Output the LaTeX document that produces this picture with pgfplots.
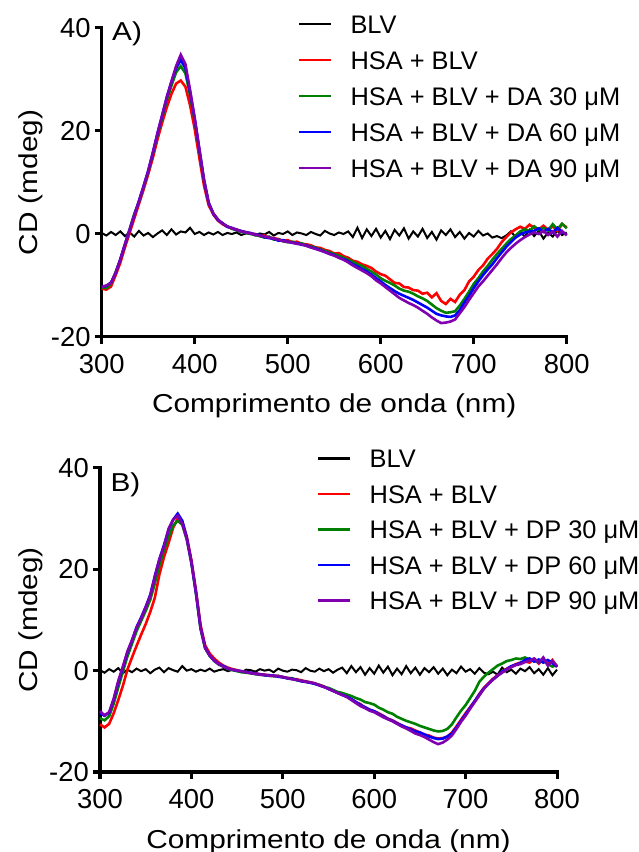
\documentclass[border=0pt]{standalone}
\usepackage{fontspec}
\setmainfont{Liberation Sans}
\newfontfamily\axisfont[FakeStretch=1.15]{Liberation Sans}
\usepackage{pgfplots}
\usepackage{pgfplotstable}
\pgfplotsset{compat=1.18}
\definecolor{cgreen}{RGB}{0,128,0}
\definecolor{cblue}{RGB}{0,0,255}
\definecolor{cpurple}{RGB}{128,0,176}
\definecolor{cred}{RGB}{255,0,0}

\pgfplotstableread{
x b r g bl p
300 0.2 -10.6 -10.4 -10.2 -10.3
305 -0.3 -10.8 -10.5 -10.1 -10.0
310 0.4 -10.2 -9.6 -9.4 -9.5
315 -0.2 -8.0 -7.4 -7.6 -7.5
320 0.5 -5.6 -5.0 -4.9 -5.0
325 -0.4 -2.6 -2.1 -2.0 -2.0
330 0.3 0.2 0.9 0.8 0.8
335 -0.5 3.0 3.9 3.6 3.6
340 0.6 5.8 6.2 6.4 6.3
345 -0.3 8.6 9.0 9.3 9.2
350 0.2 11.6 12.0 12.3 12.2
355 -0.6 14.8 15.5 15.8 15.8
360 0.1 18.4 19.2 19.6 19.5
365 0.7 21.6 22.6 23.0 23.1
370 -0.2 24.6 26.0 26.6 26.5
375 0.9 27.2 28.8 29.6 29.6
380 -0.1 29.2 31.4 32.2 32.6
385 0.5 29.8 32.6 33.8 34.8
390 0.3 28.6 31.2 32.2 33.0
395 1.2 25.0 27.0 27.6 28.0
400 0.0 20.4 22.0 22.4 22.5
405 0.4 14.8 16.2 16.4 16.5
410 -0.2 9.4 10.4 10.5 10.5
415 0.3 5.6 6.0 6.1 6.0
420 -0.1 3.8 4.0 3.9 4.0
425 0.4 2.6 2.8 2.7 2.8
430 -0.2 1.9 2.0 2.1 2.0
435 0.2 1.4 1.5 1.4 1.5
440 0.0 1.1 1.0 1.2 1.1
445 0.3 0.9 0.7 0.8 0.8
450 -0.2 0.5 0.4 0.6 0.5
455 0.1 0.4 0.2 0.3 0.3
460 0.2 0.1 0.0 0.2 0.1
465 -0.3 0.0 -0.2 -0.1 -0.1
470 0.1 -0.4 -0.4 -0.2 -0.3
475 -0.1 -0.3 -0.7 -0.6 -0.5
480 0.4 -0.7 -0.5 -0.8 -0.7
485 -0.3 -0.8 -1.1 -0.9 -0.9
490 0.2 -1.0 -1.0 -1.3 -1.1
495 0.0 -1.3 -1.4 -1.2 -1.4
500 0.5 -1.2 -1.6 -1.5 -1.5
505 -0.2 -1.6 -1.5 -1.7 -1.7
510 0.3 -1.5 -1.9 -1.8 -1.9
515 0.1 -1.9 -1.8 -2.1 -2.0
520 -0.2 -2.0 -2.3 -2.2 -2.3
525 0.4 -2.2 -2.4 -2.6 -2.6
530 0.0 -2.6 -2.7 -2.8 -2.9
535 -0.3 -2.7 -3.0 -3.1 -3.2
540 0.6 -3.1 -3.3 -3.5 -3.5
545 0.1 -3.3 -3.6 -3.8 -3.9
550 -0.2 -3.8 -3.9 -4.1 -4.2
555 0.3 -3.7 -4.2 -4.6 -4.6
560 0.0 -4.3 -4.6 -4.9 -5.0
565 0.5 -4.6 -5.0 -5.3 -5.5
570 -0.6 -5.2 -5.4 -5.9 -6.1
575 1.2 -5.4 -5.9 -6.3 -6.6
580 -0.8 -5.9 -6.2 -6.8 -7.1
585 0.9 -6.2 -6.8 -7.3 -7.6
590 -0.4 -6.6 -7.3 -7.9 -8.2
595 1.0 -7.3 -7.9 -8.6 -9.0
600 -0.7 -7.8 -8.6 -9.2 -9.6
605 0.6 -8.1 -9.1 -9.9 -10.3
610 -1.0 -8.8 -9.5 -10.5 -11.0
615 0.8 -9.5 -10.0 -11.1 -11.7
620 -0.3 -9.6 -10.6 -11.6 -12.4
625 1.1 -10.3 -11.0 -12.0 -12.9
630 -0.9 -10.4 -11.2 -12.4 -13.4
635 0.5 -10.9 -11.6 -12.8 -13.8
640 -0.5 -11.0 -12.1 -13.3 -14.3
645 1.0 -11.6 -12.5 -13.8 -14.9
650 -0.8 -11.4 -13.0 -14.3 -15.5
655 0.4 -12.3 -13.7 -14.9 -16.2
660 -1.1 -11.5 -14.4 -15.5 -16.8
665 0.7 -13.0 -14.9 -15.8 -17.3
670 -0.2 -13.6 -15.3 -16.0 -17.2
675 0.9 -12.6 -15.2 -16.1 -17.0
680 -0.6 -13.2 -15.0 -15.8 -16.6
685 0.4 -11.8 -13.9 -14.8 -15.4
690 -0.9 -10.9 -12.6 -13.3 -14.2
695 0.2 -9.2 -11.2 -12.0 -12.8
700 -0.5 -8.3 -9.7 -10.5 -11.5
705 0.6 -7.0 -8.6 -9.2 -10.2
710 -0.3 -6.1 -7.3 -8.0 -9.2
715 0.1 -4.8 -6.2 -6.9 -8.1
720 -0.7 -3.9 -5.0 -5.9 -7.0
725 -0.4 -2.9 -3.9 -4.7 -5.9
730 -0.8 -1.6 -2.9 -3.6 -4.7
735 -0.3 -0.6 -1.9 -2.5 -3.6
740 0.5 0.3 -1.0 -1.6 -2.7
745 -0.6 0.9 -0.3 -0.7 -1.9
750 0.4 1.4 0.5 -0.1 -1.2
755 -0.5 1.0 0.9 0.3 -0.6
760 0.8 1.8 0.6 0.5 -0.1
765 -0.4 1.2 1.5 0.6 0.3
770 0.6 0.9 0.8 1.1 0.0
775 -0.9 1.6 1.2 0.4 0.6
780 0.3 0.8 0.7 1.0 -0.2
785 -0.5 1.5 1.9 0.3 0.5
790 0.7 0.6 0.9 1.2 -0.5
795 -0.2 1.9 2.0 0.4 0.6
800 0.3 1.3 1.1 -0.1 -0.3
}\tabA

\pgfplotstableread{
x b r g bl p
300 0.1 -10.6 -9.4 -8.4 -8.0
305 -0.4 -11.2 -9.8 -8.9 -8.8
310 0.3 -10.5 -9.0 -8.3 -8.2
315 -0.2 -8.4 -6.5 -5.7 -5.5
320 0.5 -5.8 -3.3 -2.3 -2.0
325 -0.5 -3.0 -0.2 0.6 0.8
330 0.2 0.2 2.8 3.6 3.8
335 -0.3 2.6 5.3 6.0 6.0
340 0.4 4.9 7.8 8.6 8.5
345 -0.1 7.1 9.8 10.5 10.3
350 0.3 9.2 11.8 12.6 12.5
355 -0.5 11.6 14.0 15.0 14.8
360 0.2 14.4 17.2 18.7 18.5
365 0.6 19.0 20.8 22.0 22.0
370 -0.3 22.4 23.8 24.8 24.5
375 0.5 25.2 26.4 27.8 28.0
380 0.1 28.2 28.6 29.8 29.8
385 -0.2 30.0 29.6 31.0 30.6
390 0.9 29.4 28.8 29.6 29.0
395 0.0 26.4 25.8 26.2 26.0
400 0.3 21.8 21.2 21.4 21.5
405 -0.2 15.8 15.2 15.4 15.5
410 0.2 9.0 8.2 8.6 8.5
415 -0.1 5.0 4.4 4.6 4.5
420 0.4 3.4 2.9 3.0 3.0
425 -0.2 2.4 1.9 2.0 2.0
430 0.1 1.6 1.2 1.3 1.3
435 0.3 1.0 0.8 0.9 0.8
440 -0.1 0.6 0.3 0.4 0.4
445 0.2 0.3 0.1 0.2 0.2
450 0.0 0.1 -0.1 0.0 0.0
455 -0.3 -0.2 -0.3 -0.1 -0.1
460 0.2 -0.3 -0.4 -0.3 -0.3
465 0.1 -0.5 -0.5 -0.4 -0.5
470 -0.2 -0.5 -0.7 -0.6 -0.6
475 0.3 -0.7 -0.8 -0.7 -0.8
480 0.0 -0.8 -0.9 -0.9 -0.8
485 0.2 -0.9 -1.0 -0.9 -1.0
490 -0.3 -1.0 -1.1 -1.0 -1.0
495 0.4 -1.1 -1.0 -1.2 -1.1
500 0.0 -1.3 -1.3 -1.3 -1.2
505 -0.2 -1.4 -1.5 -1.5 -1.5
510 0.2 -1.6 -1.5 -1.6 -1.7
515 0.1 -1.7 -1.9 -1.8 -1.8
520 -0.3 -1.9 -2.0 -2.1 -2.0
525 0.5 -2.1 -2.2 -2.2 -2.2
530 0.0 -2.3 -2.3 -2.4 -2.3
535 -0.2 -2.5 -2.6 -2.6 -2.5
540 0.4 -2.8 -2.8 -2.9 -2.9
545 -0.1 -3.1 -3.2 -3.2 -3.2
550 0.3 -3.6 -3.4 -3.6 -3.6
555 -0.4 -3.9 -3.8 -4.0 -4.0
560 0.2 -4.4 -4.2 -4.4 -4.4
565 0.6 -4.6 -4.4 -4.8 -4.8
570 -0.5 -5.1 -4.7 -5.1 -5.2
575 0.9 -5.6 -5.0 -5.6 -5.8
580 -0.3 -6.2 -5.4 -6.2 -6.4
585 0.7 -6.6 -5.7 -6.8 -7.0
590 -0.8 -7.3 -6.2 -7.2 -7.4
595 0.5 -7.7 -6.4 -7.7 -7.9
600 -0.6 -8.0 -6.7 -8.0 -8.2
605 1.0 -8.4 -7.3 -8.6 -8.7
610 -0.4 -8.9 -7.7 -9.0 -9.2
615 0.8 -9.5 -8.2 -9.5 -9.6
620 -0.9 -9.8 -8.5 -9.9 -10.0
625 0.4 -10.3 -9.1 -10.4 -10.5
630 -0.7 -10.8 -9.5 -10.8 -11.0
635 0.9 -11.2 -9.9 -11.2 -11.4
640 -0.5 -11.4 -10.2 -11.6 -11.9
645 0.6 -11.8 -10.5 -12.0 -12.4
650 -0.8 -12.2 -10.9 -12.2 -12.7
655 0.5 -12.6 -11.2 -12.6 -13.1
660 -0.3 -12.8 -11.5 -13.0 -13.6
665 0.7 -13.2 -11.8 -13.3 -14.1
670 -0.6 -13.4 -12.0 -13.5 -14.5
675 0.4 -13.3 -11.9 -13.4 -14.2
680 -0.9 -13.0 -11.5 -13.0 -13.6
685 0.2 -12.2 -10.6 -12.4 -12.8
690 -0.5 -11.0 -9.2 -11.2 -11.5
695 0.8 -9.7 -7.9 -9.9 -10.1
700 -0.2 -8.4 -6.8 -8.6 -8.9
705 0.3 -7.2 -5.4 -7.3 -7.5
710 -0.6 -6.0 -4.0 -6.0 -6.2
715 0.5 -4.6 -2.2 -4.7 -4.9
720 -0.4 -3.4 -1.2 -3.5 -3.6
725 -0.7 -2.5 -0.4 -2.6 -2.6
730 -0.2 -1.6 0.3 -1.7 -1.8
735 -0.8 -0.9 1.0 -1.0 -1.0
740 0.6 -0.3 1.4 -0.2 -0.4
745 -0.3 0.4 1.9 0.3 0.2
750 0.2 0.8 2.1 0.9 0.7
755 -0.6 1.3 2.4 1.2 1.1
760 0.4 1.6 2.3 1.5 1.3
765 -0.1 1.8 2.6 2.1 1.7
770 0.7 1.6 2.2 2.4 2.0
775 -0.5 2.3 2.0 1.8 2.4
780 0.3 1.4 1.6 2.2 1.6
785 -0.8 2.4 1.9 1.6 2.6
790 0.5 1.2 1.3 2.1 1.0
795 -0.9 2.1 0.8 1.5 1.9
800 0.2 0.7 1.2 0.8 0.9
}\tabB

\newcommand\axfont{\axisfont\fontsize{26}{28}\selectfont}
\newcommand\tkfont{\fontsize{27.5}{29}\selectfont}
\newcommand\legfont{\fontsize{25.5}{27}\selectfont}

\pgfplotsset{
  cdstyle/.style={
    scale only axis, clip=false,
    xmin=300, xmax=800, ymin=-20, ymax=40,
    axis x line=bottom, axis y line=left,
    axis line style={-, line width=3bp, line cap=rect},
    xtick={300,400,500,600,700,800}, ytick={-20,0,20,40},
    minor tick num=0,
    tick align=outside,
    tickwidth=7bp,
    every tick/.style={black, line width=3bp},
    tick label style={font=\tkfont, inner sep=0pt},
    xticklabel style={anchor=north, yshift=-10bp},
    yticklabel style={anchor=east, xshift=-4bp},
    /pgf/number format/assume math mode=true,
    xlabel style={at={(axis description cs:0.5,0)}, anchor=base, yshift=-76bp, font=\axfont},
    ylabel style={at={(axis description cs:-0.137,0.5)}, anchor=base, font=\axfont},
    legend cell align=left,
    legend image code/.code={\draw[##1, line width=2.6bp] (0bp,3bp) -- (32bp,3bp);},
    legend style={draw=none, fill=none, font=\legfont, anchor=north west,
      inner sep=0pt, outer sep=0pt, column sep=18bp,
      nodes={inner sep=0pt, text height=18.5bp, text depth=6bp}},
  },
  blv/.style={black, line width=2bp},
  s1/.style={cred, line width=2.6bp},
  s2/.style={cgreen, line width=2.6bp},
  s3/.style={cblue, line width=2.6bp},
  s4/.style={cpurple, line width=2.6bp},
}

\begin{document}
\begin{tikzpicture}
\useasboundingbox (0,0) rectangle (639bp,852bp);
\begin{axis}[cdstyle, at={(101.7bp,515bp)}, anchor=south west,
  width=465bp, height=309bp,
  xlabel={Comprimento de onda (nm)}, ylabel={CD (mdeg)},
  legend style={at={(axis description cs:0.422,1.043)}, row sep=11.5bp}]
\addplot[blv] table[x=x,y=b]{\tabA}; \addlegendentry{BLV}
\addplot[s1] table[x=x,y=r]{\tabA}; \addlegendentry{HSA + BLV}
\addplot[s2] table[x=x,y=g]{\tabA}; \addlegendentry{HSA + BLV + DA 30 μM}
\addplot[s3] table[x=x,y=bl]{\tabA}; \addlegendentry{HSA + BLV + DA 60 μM}
\addplot[s4] table[x=x,y=p]{\tabA}; \addlegendentry{HSA + BLV + DA 90 μM}
\node[anchor=base west, xshift=7bp, yshift=-13bp, font=\axfont] at (rel axis cs:0,1) {A)};
\end{axis}
\begin{axis}[cdstyle, at={(100bp,80bp)}, anchor=south west,
  width=457bp, height=304bp,
  xlabel={Comprimento de onda (nm)}, ylabel={CD (mdeg)},
  legend style={at={(axis description cs:0.475,1.062)}, row sep=11.0bp}]
\addplot[blv] table[x=x,y=b]{\tabB}; \addlegendentry{BLV}
\addplot[s1] table[x=x,y=r]{\tabB}; \addlegendentry{HSA + BLV}
\addplot[s2] table[x=x,y=g]{\tabB}; \addlegendentry{HSA + BLV + DP 30 μM}
\addplot[s3] table[x=x,y=bl]{\tabB}; \addlegendentry{HSA + BLV + DP 60 μM}
\addplot[s4] table[x=x,y=p]{\tabB}; \addlegendentry{HSA + BLV + DP 90 μM}
\node[anchor=base west, xshift=7bp, yshift=-23bp, font=\axfont] at (rel axis cs:0,1) {B)};
\end{axis}
\end{tikzpicture}
\end{document}
